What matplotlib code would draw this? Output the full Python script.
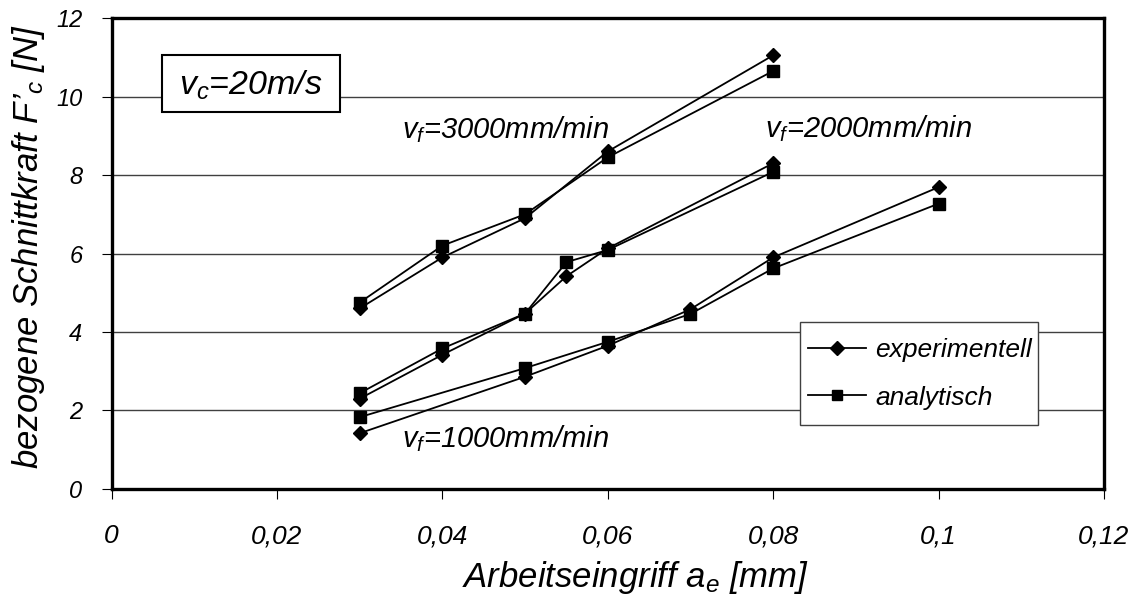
import matplotlib
matplotlib.use("Agg")
import matplotlib.pyplot as plt
from matplotlib.lines import Line2D
from matplotlib.patches import Rectangle

plt.rcParams['font.family'] = ['Liberation Sans', 'DejaVu Sans']
plt.rcParams['font.style'] = 'italic'
plt.rcParams['mathtext.fontset'] = 'custom'
plt.rcParams['mathtext.it'] = 'Liberation Sans:italic'
plt.rcParams['mathtext.rm'] = 'Liberation Sans:italic'

# Arbeitseingriff a_e [mm] and bezogene Schnittkraft F'c [N] for each feed rate
ae_3000 = [0.03, 0.04, 0.05, 0.06, 0.08]
exp_3000 = [4.6, 5.9, 6.9, 8.6, 11.05]
ana_3000 = [4.75, 6.2, 7.0, 8.45, 10.65]

ae_2000 = [0.03, 0.04, 0.05, 0.055, 0.06, 0.08]
exp_2000 = [2.3, 3.42, 4.47, 5.42, 6.13, 8.3]
ana_2000 = [2.44, 3.58, 4.47, 5.78, 6.09, 8.08]

ae_1000 = [0.03, 0.05, 0.06, 0.07, 0.08, 0.1]
exp_1000 = [1.42, 2.86, 3.65, 4.58, 5.9, 7.69]
ana_1000 = [1.83, 3.08, 3.75, 4.46, 5.62, 7.27]

x_ticks = [0, 0.02, 0.04, 0.06, 0.08, 0.1, 0.12]
x_tick_labels = ['0', '0,02', '0,04', '0,06', '0,08', '0,1', '0,12']
y_ticks = [0, 2, 4, 6, 8, 10, 12]

fig = plt.figure(figsize=(11.36, 6.01), dpi=100)
ax = fig.add_axes([0.0982, 0.1864, 0.8736, 0.7836])

DIAMOND_MS = 7.1
SQUARE_MS = 9.2
line_kw = dict(color='black', lw=1.3)
for ae, exp_v, ana_v in [(ae_3000, exp_3000, ana_3000),
                         (ae_2000, exp_2000, ana_2000),
                         (ae_1000, exp_1000, ana_1000)]:
    ax.plot(ae, exp_v, marker='D', ms=DIAMOND_MS, mfc='black', mec='black', **line_kw)
    ax.plot(ae, ana_v, marker='s', ms=SQUARE_MS, mfc='black', mec='black', **line_kw)

ax.set_xlim(0, 0.12)
ax.set_ylim(0, 12)
ax.set_xticks(x_ticks)
ax.set_xticklabels(x_tick_labels)
ax.set_yticks(y_ticks)
ax.tick_params(axis='x', direction='out', length=7, width=0.8, labelsize=19, pad=18.5)
ax.tick_params(axis='y', direction='out', length=7, width=0.8, labelsize=17, pad=14)
for lab in ax.get_xticklabels() + ax.get_yticklabels():
    lab.set_fontstyle('italic')

ax.yaxis.grid(True, color='#404040', lw=1)
ax.set_axisbelow(True)
for sp in ax.spines.values():
    sp.set_linewidth(2.4)
    sp.set_color('black')

ax.set_xlabel(r'Arbeitseingriff $a_e$ [mm]', fontsize=25, va='center')
ax.xaxis.set_label_coords(0.5285, -0.187)
ax.set_ylabel(r"bezogene Schnittkraft $F$’$_c$ [N]", fontsize=25, va='center', ha='center')
ax.yaxis.set_label_coords(-0.0841, 0.514)

ax.text(0.0351, 8.94, r'$v_f$=3000mm/min', fontsize=21, va='baseline', ha='left')
ax.text(0.0790, 8.96, r'$v_f$=2000mm/min', fontsize=21, va='baseline', ha='left')
ax.text(0.0351, 1.07, r'$v_f$=1000mm/min', fontsize=21, va='baseline', ha='left')

# cutting-speed box in the upper left corner
ax.add_patch(Rectangle((0.0509, 0.8004), 0.1793, 0.1210, transform=ax.transAxes,
                       fc='white', ec='black', lw=1.5, zorder=4))
ax.text(0.1405, 0.8365, r'$v_c$=20m/s', fontsize=24.5, va='baseline', ha='center',
        transform=ax.transAxes, zorder=5)

# legend frame drawn separately so the inner padding can differ per side
ax.add_patch(Rectangle((0.6937, 0.1359), 0.2398, 0.2187, transform=ax.transAxes,
                       fc='white', ec='#404040', lw=1.0, zorder=4))
handles = [Line2D([], [], color='black', lw=1.3, marker='D', ms=DIAMOND_MS, mfc='black', mec='black'),
           Line2D([], [], color='black', lw=1.3, marker='s', ms=SQUARE_MS * 0.85, mfc='black', mec='black')]
leg = ax.legend(handles, ['experimentell', 'analytisch'], loc='center left',
                bbox_to_anchor=(0.7018, 0.244), borderaxespad=0, borderpad=0,
                fontsize=19, frameon=False, labelspacing=0.88,
                handlelength=2.2, handletextpad=0.34)
leg.set_zorder(5)

fig.savefig('out.png', dpi=100)
